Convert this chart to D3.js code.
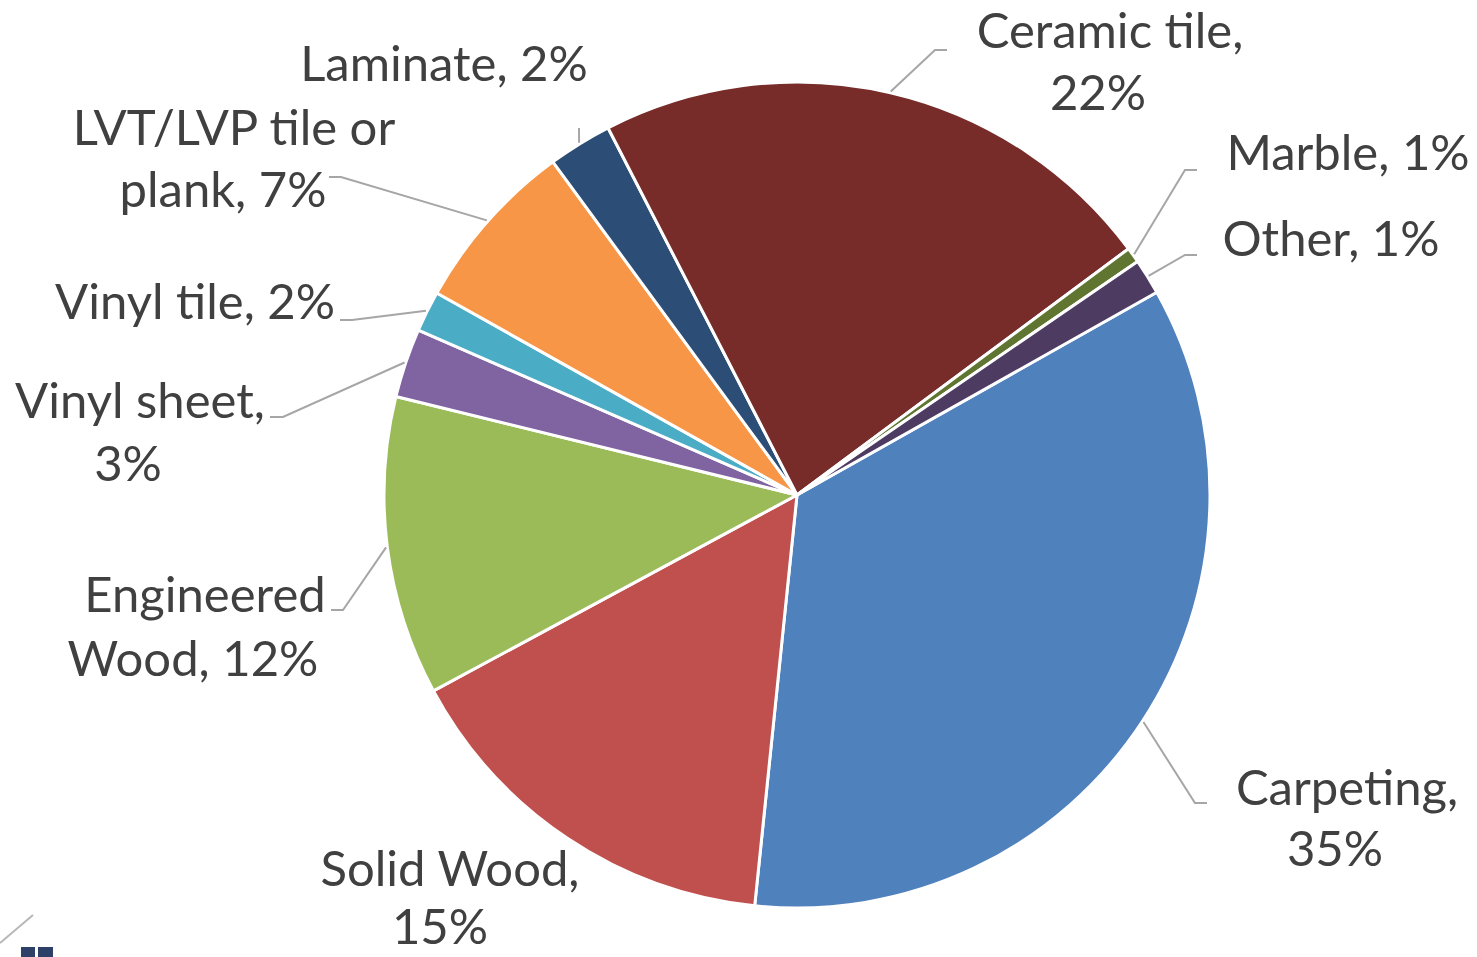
<!DOCTYPE html>
<html><head><meta charset="utf-8">
<script src="https://cdn.jsdelivr.net/npm/d3@7"></script>
<style>html,body{margin:0;padding:0;background:#fff;overflow:hidden}</style>
</head><body>
<svg id="chart" width="1477" height="957"></svg>
<script>
// ---- data ----
const categories = ["Carpeting","Solid Wood","Engineered Wood","Vinyl sheet","Vinyl tile","LVT/LVP tile or plank","Laminate","Ceramic tile","Marble","Other"];
const values = [34.8, 15.5, 11.7, 2.7, 1.6, 6.8, 2.5, 22.4, 0.6, 1.4];
const percentLabels = ["35%","15%","12%","3%","2%","7%","2%","22%","1%","1%"];
const labelLines = [
  ["Carpeting,","35%"],
  ["Solid Wood,","15%"],
  ["Engineered","Wood, 12%"],
  ["Vinyl sheet,","3%"],
  ["Vinyl tile, 2%"],
  ["LVT/LVP tile or","plank, 7%"],
  ["Laminate, 2%"],
  ["Ceramic tile,","22%"],
  ["Marble, 1%"],
  ["Other, 1%"]
];
const colors = ["#4F81BD","#C0504D","#9BBB59","#8064A2","#4BACC6","#F79646","#2C4D75","#772C2A","#5F7530","#4D3B62"];

// ---- layout (not data) ----
const cx = 797, cy = 495, R = 413;
const startDeg = 60.6;
const labelLayout = [
  {lines:[[1347,805],[1335,866]], elbow:[1195,803], end:1207},
  {lines:[[450,886],[440,944]], elbow:null},
  {lines:[[205,612],[193,676]], elbow:[343,610], end:331},
  {lines:[[140,418],[128,481]], elbow:[283,417], end:270},
  {lines:[[195,319]], elbow:[352,320], end:340},
  {lines:[[234,145],[223,207]], elbow:[341,177], end:329},
  {lines:[[444,81]], elbow:[579,128], end:579},
  {lines:[[1110,48],[1098,110]], elbow:[935,50], end:947},
  {lines:[[1348,170]], elbow:[1185,170], end:1197},
  {lines:[[1331,256]], elbow:[1185,255], end:1197}
];

const svg = d3.select("#chart");
const data = categories.map((c,i)=>({name:c, value:values[i], pct:percentLabels[i], lines:labelLines[i], color:colors[i], lay:labelLayout[i]}));

const pie = d3.pie().value(d=>d.value).sort(null)
  .startAngle(startDeg*Math.PI/180).endAngle(startDeg*Math.PI/180 + 2*Math.PI);
const arc = d3.arc().innerRadius(0).outerRadius(R);
const arcs = pie(data);

const g = svg.append("g").attr("transform",`translate(${cx},${cy})`);
g.selectAll("path").data(arcs).join("path")
  .attr("d",arc).attr("fill",d=>d.data.color)
  .attr("stroke","#fff").attr("stroke-width",3).attr("stroke-linejoin","round");

// leader lines
const leaders = svg.append("g");
arcs.forEach(a=>{
  const L = a.data.lay;
  if(!L.elbow) return;
  const mid = (a.startAngle+a.endAngle)/2;
  const sx = cx + R*Math.sin(mid)*1.003, sy = cy - R*Math.cos(mid)*1.003;
  leaders.append("polyline")
    .attr("points",`${sx},${sy} ${L.elbow[0]},${L.elbow[1]} ${L.end},${L.elbow[1]}`)
    .attr("fill","none").attr("stroke","#A6A6A6").attr("stroke-width",2);
});

// labels
const labels = svg.append("g")
  .attr("font-family","Lato, 'Open Sans', sans-serif")
  .attr("font-size",49).attr("fill","#404040");
arcs.forEach(a=>{
  a.data.lines.forEach((t,j)=>{
    const p = a.data.lay.lines[j];
    labels.append("text")
      .attr("x",p[0]).attr("y",p[1])
      .attr("text-anchor","middle").text(t);
  });
});

// corner artifacts of the original screenshot
svg.append("line").attr("x1",0).attr("y1",943).attr("x2",33).attr("y2",915)
  .attr("stroke","#9a9a9a").attr("stroke-width",2).attr("opacity",0.7);
svg.append("rect").attr("x",21).attr("y",947).attr("width",14).attr("height",10).attr("fill","#2C4068");
svg.append("rect").attr("x",38).attr("y",947).attr("width",15).attr("height",10).attr("fill","#2C4068");
</script>
</body></html>
